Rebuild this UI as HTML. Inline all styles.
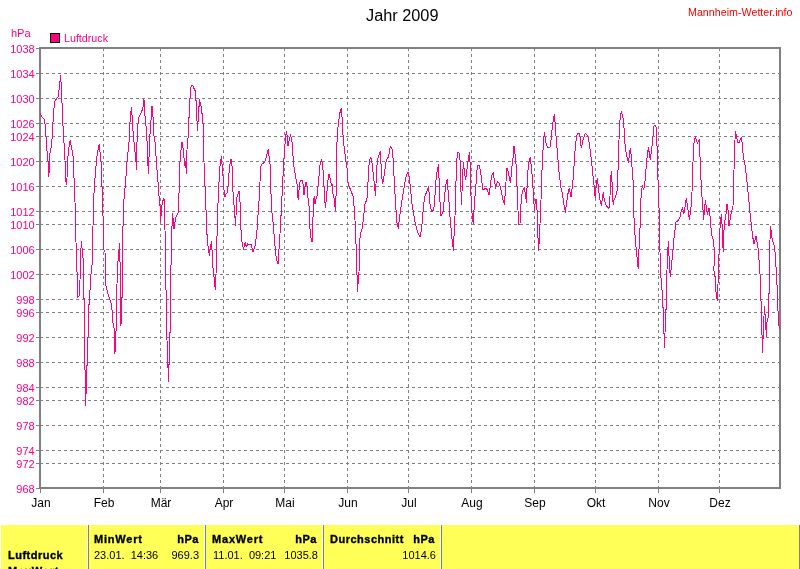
<!DOCTYPE html>
<html lang="de"><head><meta charset="utf-8"><title>Jahr 2009</title>
<style>
html,body{margin:0;padding:0;background:#fff;}
body{width:800px;height:569px;overflow:hidden;position:relative;font-family:"Liberation Sans",sans-serif;}
svg{position:absolute;left:0;top:0;}
svg text{font-family:"Liberation Sans",sans-serif;}
.tbl{position:absolute;left:1px;top:525px;width:798px;height:44px;background:#ffff58;border-right:1px solid #808080;overflow:hidden;font-size:11px;color:#000;}
.tbl span{position:absolute;white-space:nowrap;line-height:13px;}
.tbl b{font-weight:bold;letter-spacing:0.5px;-webkit-text-stroke:0.35px #000;}
.sep{position:absolute;top:0;width:1px;height:44px;background:#ffffff;border-right:1px solid #808080;}
</style></head><body>

<svg width="800" height="525" viewBox="0 0 800 525">
<g shape-rendering="crispEdges" stroke="#808080" stroke-width="1" stroke-dasharray="3 3" fill="none">
<line x1="40" y1="73.5" x2="779" y2="73.5"/>
<line x1="40" y1="98.5" x2="779" y2="98.5"/>
<line x1="40" y1="123.5" x2="779" y2="123.5"/>
<line x1="40" y1="136.5" x2="779" y2="136.5"/>
<line x1="40" y1="161.5" x2="779" y2="161.5"/>
<line x1="40" y1="186.5" x2="779" y2="186.5"/>
<line x1="40" y1="211.5" x2="779" y2="211.5"/>
<line x1="40" y1="224.5" x2="779" y2="224.5"/>
<line x1="40" y1="249.5" x2="779" y2="249.5"/>
<line x1="40" y1="274.5" x2="779" y2="274.5"/>
<line x1="40" y1="299.5" x2="779" y2="299.5"/>
<line x1="40" y1="312.5" x2="779" y2="312.5"/>
<line x1="40" y1="337.5" x2="779" y2="337.5"/>
<line x1="40" y1="362.5" x2="779" y2="362.5"/>
<line x1="40" y1="387.5" x2="779" y2="387.5"/>
<line x1="40" y1="400.5" x2="779" y2="400.5"/>
<line x1="40" y1="425.5" x2="779" y2="425.5"/>
<line x1="40" y1="450.5" x2="779" y2="450.5"/>
<line x1="40" y1="463.5" x2="779" y2="463.5"/>
<line x1="103.5" y1="48" x2="103.5" y2="487"/>
<line x1="160.5" y1="48" x2="160.5" y2="487"/>
<line x1="223.5" y1="48" x2="223.5" y2="487"/>
<line x1="284.5" y1="48" x2="284.5" y2="487"/>
<line x1="347.5" y1="48" x2="347.5" y2="487"/>
<line x1="408.5" y1="48" x2="408.5" y2="487"/>
<line x1="471.5" y1="48" x2="471.5" y2="487"/>
<line x1="534.5" y1="48" x2="534.5" y2="487"/>
<line x1="595.5" y1="48" x2="595.5" y2="487"/>
<line x1="658.5" y1="48" x2="658.5" y2="487"/>
<line x1="719.5" y1="48" x2="719.5" y2="487"/>
</g>
<g shape-rendering="crispEdges" stroke="#808080" stroke-width="1" fill="none">
<line x1="36" y1="48.5" x2="40" y2="48.5"/>
<line x1="36" y1="73.5" x2="40" y2="73.5"/>
<line x1="36" y1="98.5" x2="40" y2="98.5"/>
<line x1="36" y1="123.5" x2="40" y2="123.5"/>
<line x1="36" y1="136.5" x2="40" y2="136.5"/>
<line x1="36" y1="161.5" x2="40" y2="161.5"/>
<line x1="36" y1="186.5" x2="40" y2="186.5"/>
<line x1="36" y1="211.5" x2="40" y2="211.5"/>
<line x1="36" y1="224.5" x2="40" y2="224.5"/>
<line x1="36" y1="249.5" x2="40" y2="249.5"/>
<line x1="36" y1="274.5" x2="40" y2="274.5"/>
<line x1="36" y1="299.5" x2="40" y2="299.5"/>
<line x1="36" y1="312.5" x2="40" y2="312.5"/>
<line x1="36" y1="337.5" x2="40" y2="337.5"/>
<line x1="36" y1="362.5" x2="40" y2="362.5"/>
<line x1="36" y1="387.5" x2="40" y2="387.5"/>
<line x1="36" y1="400.5" x2="40" y2="400.5"/>
<line x1="36" y1="425.5" x2="40" y2="425.5"/>
<line x1="36" y1="450.5" x2="40" y2="450.5"/>
<line x1="36" y1="463.5" x2="40" y2="463.5"/>
<line x1="36" y1="488.5" x2="40" y2="488.5"/>
<line x1="40.5" y1="488" x2="40.5" y2="493"/>
<line x1="103.5" y1="488" x2="103.5" y2="493"/>
<line x1="160.5" y1="488" x2="160.5" y2="493"/>
<line x1="223.5" y1="488" x2="223.5" y2="493"/>
<line x1="284.5" y1="488" x2="284.5" y2="493"/>
<line x1="347.5" y1="488" x2="347.5" y2="493"/>
<line x1="408.5" y1="488" x2="408.5" y2="493"/>
<line x1="471.5" y1="488" x2="471.5" y2="493"/>
<line x1="534.5" y1="488" x2="534.5" y2="493"/>
<line x1="595.5" y1="488" x2="595.5" y2="493"/>
<line x1="658.5" y1="488" x2="658.5" y2="493"/>
<line x1="719.5" y1="488" x2="719.5" y2="493"/>
</g>
<rect shape-rendering="crispEdges" x="40" y="48" width="740" height="440" fill="none" stroke="#808080" stroke-width="2"/>
<polyline shape-rendering="crispEdges" fill="none" stroke="#ff0080" stroke-width="1" stroke-linejoin="round" points="40.4,113.0 41.6,116.4 44.4,119.6 45.4,127.0 46.2,140.0 47.4,156.0 48.0,161.0 48.6,174.0 48.6,177.0 49.2,171.0 50.0,153.0 51.4,146.0 52.4,134.0 53.4,114.0 54.6,102.0 56.0,99.4 58.0,97.0 59.0,90.0 59.6,81.0 60.0,82.0 60.6,75.0 61.2,85.0 61.8,86.0 62.0,103.0 62.6,104.0 63.0,126.0 63.6,128.0 64.4,156.0 65.0,160.0 65.4,174.0 66.0,182.0 66.6,184.8 67.0,178.0 67.4,162.0 68.6,150.0 69.4,144.0 70.2,140.0 71.0,145.0 72.0,150.0 73.2,157.0 73.6,174.0 74.4,182.0 75.0,202.0 75.4,222.0 76.0,242.0 76.4,256.0 77.0,272.0 77.4,284.0 77.4,297.6 79.4,295.6 80.0,280.0 80.6,256.0 81.4,241.0 82.0,248.0 82.6,250.0 83.0,258.0 83.6,276.0 84.0,288.0 83.6,298.0 84.4,299.0 84.4,369.6 85.4,370.4 85.4,406.0 86.2,391.0 86.4,366.0 87.6,365.0 88.0,337.0 88.6,336.0 88.6,305.0 89.6,304.0 90.0,290.0 90.0,284.0 91.4,270.0 92.4,262.0 93.0,226.0 93.6,202.0 94.4,184.0 95.4,175.0 96.0,166.0 97.0,156.0 98.0,150.0 99.2,144.0 100.0,152.0 101.0,162.0 102.0,175.8 101.2,184.0 102.4,188.0 103.0,216.0 103.6,234.0 104.0,250.0 105.0,252.0 105.6,284.0 107.0,290.0 108.0,294.0 109.6,299.0 111.4,304.0 112.0,310.0 113.0,323.0 114.0,328.0 114.4,338.0 115.0,353.6 115.4,332.0 116.4,330.0 116.6,290.0 117.0,284.0 117.6,262.0 118.4,260.0 119.4,243.0 120.0,262.0 120.6,264.0 121.0,289.8 120.6,305.0 121.0,326.0 121.4,298.0 122.4,297.0 122.6,290.0 122.6,242.0 123.6,204.0 125.2,186.0 126.0,176.0 127.0,162.0 128.0,152.0 129.0,142.0 130.0,122.0 130.6,116.0 131.4,107.0 132.0,115.0 132.6,126.0 134.0,142.0 135.0,152.0 135.6,162.0 136.0,158.0 136.4,169.4 137.0,142.0 137.6,130.0 138.4,118.0 140.0,115.0 141.6,112.0 143.0,107.0 143.6,99.0 144.2,101.0 144.4,110.0 145.4,120.0 146.4,130.0 147.4,148.0 148.0,166.0 148.6,174.0 149.2,150.0 150.0,134.0 151.0,120.0 152.0,106.0 152.6,116.0 153.4,118.0 154.0,136.0 155.0,142.0 156.0,156.0 157.0,170.0 158.0,182.0 159.0,196.0 160.0,206.0 160.6,222.0 161.4,210.0 162.4,202.0 164.0,198.0 164.4,216.0 165.0,230.0 165.6,256.0 166.0,289.8 166.4,295.0 166.4,339.0 167.0,340.0 167.4,366.0 168.2,368.0 168.2,381.6 168.6,365.0 169.4,364.0 169.6,333.0 170.4,332.0 170.6,292.0 171.4,240.0 172.0,226.0 172.4,213.0 173.2,220.0 174.0,229.0 175.0,222.0 176.0,217.0 178.0,213.0 178.6,200.0 179.4,186.0 179.6,176.0 180.0,162.0 181.0,150.0 182.0,142.0 183.0,148.0 184.0,158.0 185.0,166.0 185.6,162.0 186.4,174.0 187.0,150.0 187.2,140.0 188.1,137.5 188.5,118.1 189.4,117.5 189.6,98.1 190.4,97.5 190.4,88.1 191.2,86.2 192.5,85.2 193.5,87.5 194.4,89.4 195.4,91.2 195.6,100.0 196.5,101.2 196.6,120.0 197.2,121.2 197.5,130.6 197.9,122.5 198.4,121.2 198.5,107.5 199.1,106.2 199.4,99.0 199.8,101.9 200.2,102.5 200.4,105.6 201.2,106.2 201.6,113.1 202.5,113.8 202.8,123.1 203.5,123.8 203.6,142.0 204.0,162.0 204.4,176.0 205.0,186.0 206.0,210.0 206.6,228.0 207.6,244.0 208.4,248.0 209.4,256.0 210.4,246.0 211.4,242.0 212.0,250.0 212.6,262.0 213.6,276.0 214.4,278.0 215.2,289.8 216.0,274.0 216.6,250.0 217.4,222.0 218.4,192.0 219.4,176.0 220.0,166.0 220.8,160.0 221.6,157.0 222.0,164.0 222.6,166.0 223.0,175.8 223.4,184.0 224.0,190.0 225.0,197.0 226.0,194.0 227.0,193.0 228.0,186.0 228.6,176.0 229.6,168.0 230.4,161.0 231.2,159.0 232.0,166.0 232.6,175.8 233.0,192.0 233.6,204.0 234.4,206.0 235.4,226.0 236.0,216.0 236.6,198.0 237.6,195.0 239.2,191.0 240.0,202.0 240.6,222.0 241.6,240.0 242.6,244.0 243.4,250.0 244.4,245.0 245.2,242.4 246.4,247.0 247.6,244.0 249.0,245.0 250.0,244.0 251.4,245.0 252.4,250.0 253.2,252.0 254.4,248.0 255.4,244.0 256.4,236.0 257.4,226.0 258.4,208.0 259.4,196.0 260.0,182.0 260.6,167.0 262.0,164.0 263.6,163.0 265.0,161.0 266.4,157.0 267.6,152.0 268.4,149.0 269.0,156.0 270.0,164.0 270.6,175.8 270.6,186.0 271.4,202.0 272.4,220.0 273.4,224.0 274.4,240.0 275.4,250.0 276.2,258.0 277.0,261.0 278.0,264.0 278.6,256.0 279.4,242.0 280.0,234.0 280.6,218.0 281.6,212.0 282.0,196.0 283.0,176.0 283.4,168.0 284.0,158.0 284.8,146.0 285.6,138.0 286.4,131.0 287.2,136.0 288.0,146.0 289.0,141.0 290.4,135.0 291.4,139.0 292.0,142.0 292.6,152.0 293.6,162.0 294.4,171.0 295.6,175.8 296.0,179.0 297.0,184.0 297.6,192.0 298.2,200.0 299.0,190.0 300.0,182.0 301.0,180.0 302.0,180.4 303.0,184.0 304.0,195.0 304.8,188.0 306.0,181.6 307.0,186.0 308.0,198.0 309.0,206.0 309.6,224.0 310.6,236.0 312.0,242.0 312.6,230.0 313.4,206.0 314.2,196.0 315.0,204.0 316.0,199.0 317.0,196.0 318.0,186.0 319.0,176.0 319.4,170.0 320.4,162.0 321.4,160.0 322.4,164.0 323.0,170.0 323.6,175.8 324.0,186.0 324.8,200.0 325.4,208.0 326.4,198.0 327.4,186.0 328.4,176.0 329.0,174.0 329.6,176.0 330.6,180.0 331.4,186.0 332.0,184.0 333.0,194.0 334.0,198.0 335.4,211.0 336.0,196.0 336.6,184.0 337.0,176.0 336.4,154.0 337.0,142.0 337.6,130.0 338.6,122.0 339.6,114.0 340.4,111.0 341.4,108.0 341.8,116.0 342.4,118.0 342.8,134.0 343.6,137.0 344.0,146.0 345.0,154.0 346.0,162.0 347.0,168.0 347.6,175.8 348.0,182.0 349.0,186.0 351.0,191.0 353.0,196.0 354.0,206.0 355.0,220.0 355.4,242.0 356.4,245.0 356.8,274.0 357.4,276.0 357.4,291.6 359.0,272.0 359.4,258.0 360.0,238.0 361.0,232.0 362.4,228.0 363.4,218.0 364.4,210.0 365.4,201.0 366.6,202.0 367.6,192.0 368.4,172.0 369.4,160.0 371.0,157.6 371.6,160.0 372.4,166.0 373.4,176.0 374.4,184.0 375.4,196.0 376.0,184.0 376.6,170.0 377.4,160.0 378.4,156.0 379.4,154.0 380.2,151.0 380.6,158.0 381.4,170.0 382.4,184.0 383.4,180.0 384.4,174.0 385.4,166.0 386.4,160.0 387.4,158.0 388.4,157.0 389.4,152.0 390.4,146.0 391.4,148.0 392.4,150.0 393.0,158.0 393.6,162.0 394.0,176.0 395.0,194.0 396.0,210.0 397.0,223.0 398.4,228.4 399.2,220.0 400.0,214.0 401.4,204.0 402.6,196.0 404.0,188.0 405.4,180.0 406.4,175.0 408.0,172.0 409.0,176.0 410.0,184.0 411.0,194.0 412.0,204.0 413.0,210.0 414.0,216.0 415.0,222.0 416.4,228.0 418.0,233.0 420.0,237.0 421.0,232.0 422.0,224.0 423.0,212.0 424.0,202.0 425.0,196.0 427.0,191.0 428.4,187.0 429.2,194.0 430.0,204.0 431.0,209.0 432.0,211.6 433.6,210.0 434.6,202.0 435.4,188.0 436.4,175.0 437.4,170.0 438.4,164.4 439.0,178.0 439.6,196.0 440.4,208.0 440.6,216.0 442.0,214.0 443.0,212.0 444.0,202.0 445.0,192.0 446.0,184.0 447.2,179.0 448.0,190.0 449.0,202.0 449.6,214.0 450.6,222.0 451.6,236.0 452.4,241.0 453.4,250.4 454.0,236.0 455.0,216.0 455.6,196.0 456.4,166.0 457.4,153.0 458.4,152.6 459.4,153.4 460.0,160.0 460.6,180.0 461.4,204.4 462.0,192.0 462.6,176.0 463.4,162.4 464.2,170.0 465.6,180.0 466.4,174.0 467.4,166.0 468.4,158.0 469.6,152.4 470.2,166.0 470.6,186.0 471.4,206.0 472.4,218.0 473.4,224.0 474.0,210.0 475.0,196.0 476.0,184.0 477.0,170.0 478.0,165.6 479.0,165.0 480.0,169.0 481.0,175.0 482.0,183.0 483.0,190.0 484.4,189.0 486.0,188.0 487.4,190.0 489.0,195.0 490.0,188.0 491.0,180.0 492.0,175.0 493.4,172.0 494.0,178.0 495.0,184.0 495.6,189.0 496.4,184.0 497.6,182.0 499.0,183.0 500.0,186.0 501.0,190.0 502.0,195.0 503.0,200.0 504.4,204.4 505.0,196.0 506.0,182.0 506.6,168.0 507.6,169.0 508.6,174.0 509.4,178.0 510.4,182.4 511.0,177.0 512.0,166.0 513.0,158.0 514.0,146.4 514.6,150.0 515.4,158.0 516.0,164.0 516.6,176.0 517.4,196.0 518.0,210.0 518.4,224.0 519.8,224.4 520.0,224.4 520.2,212.0 520.6,212.0 521.0,204.0 522.0,194.0 523.0,190.0 524.4,188.0 525.4,194.0 526.4,202.4 527.0,188.0 527.6,176.0 528.4,164.0 529.4,160.0 530.4,157.6 531.0,164.0 531.6,168.0 532.4,180.0 533.0,188.0 533.6,196.0 534.4,211.0 535.0,204.0 536.0,199.4 536.6,204.0 537.0,210.0 537.6,226.0 538.0,238.0 538.6,250.6 539.4,238.0 540.0,224.0 540.6,210.0 541.0,200.0 541.6,180.0 542.4,160.0 543.0,150.0 543.6,140.0 544.4,132.0 545.4,140.0 546.4,145.0 548.0,147.4 550.0,147.0 551.0,140.0 552.0,130.0 553.0,122.0 554.4,114.4 555.0,122.0 555.6,128.0 556.0,136.0 557.0,148.0 558.0,160.0 559.0,172.0 560.0,180.0 561.0,188.0 562.4,194.0 563.6,202.0 564.4,207.0 565.4,212.4 566.4,204.0 567.6,196.0 568.6,190.0 569.4,188.0 570.0,192.0 571.0,197.0 571.6,192.0 572.4,186.0 573.4,176.0 574.4,160.0 575.4,146.0 576.4,138.0 577.4,133.6 579.0,133.4 580.0,137.0 580.6,143.0 581.4,148.0 582.4,143.0 583.6,138.0 584.6,135.0 585.6,133.4 587.0,135.0 588.4,138.0 589.4,144.0 590.4,152.0 591.4,160.0 592.4,170.0 593.4,180.0 594.4,188.0 595.2,198.0 596.0,188.0 597.0,180.0 597.6,179.0 598.4,188.0 599.4,196.0 600.4,202.0 601.4,206.0 602.4,198.0 603.2,192.4 604.0,198.0 605.0,202.0 606.0,205.0 607.4,207.0 609.0,208.4 610.0,196.0 610.6,180.0 611.4,171.0 612.0,182.0 612.6,196.0 613.2,205.0 614.0,200.0 615.0,198.0 616.0,195.0 617.0,191.0 617.6,180.0 618.4,160.0 619.0,140.0 619.6,124.0 620.4,116.0 621.4,111.4 622.4,116.0 623.4,120.0 624.0,128.0 624.6,140.0 625.4,148.0 626.4,154.0 627.4,159.0 628.6,162.0 629.4,154.0 630.4,148.0 631.0,154.0 631.6,162.0 632.4,172.0 633.0,180.0 633.6,196.0 633.6,208.0 634.4,228.0 635.4,240.0 636.4,252.0 637.4,260.0 638.2,268.4 638.6,258.0 639.4,240.0 640.0,228.0 641.0,210.0 640.4,204.0 641.4,194.0 642.4,185.0 643.4,190.0 644.4,186.0 645.4,178.0 646.4,164.0 647.4,154.0 648.4,147.4 649.4,154.0 650.4,160.0 651.2,152.0 652.0,146.0 653.0,136.0 654.0,126.0 655.0,125.0 656.0,127.0 656.6,140.0 657.4,152.0 657.6,172.0 658.4,188.0 659.0,208.0 659.0,224.0 659.4,250.0 660.0,252.0 660.4,274.0 661.4,280.0 662.0,290.0 662.6,307.0 663.4,308.0 663.6,333.0 664.2,334.0 664.2,347.6 665.0,333.0 665.4,310.0 666.4,309.0 666.6,290.0 666.4,286.0 667.0,270.0 667.6,254.0 668.4,241.0 669.0,256.0 669.6,268.0 670.4,277.0 671.0,270.0 672.0,260.0 673.0,250.0 674.0,238.0 675.0,230.0 676.0,222.0 677.4,221.0 678.6,220.0 679.8,218.0 680.6,213.0 681.6,210.0 682.4,207.4 683.4,212.0 684.0,213.6 685.0,207.0 685.6,202.0 686.4,198.0 687.4,206.0 688.4,212.0 689.4,219.4 690.4,212.0 691.4,204.0 692.0,192.0 692.4,176.0 693.0,162.0 693.6,146.0 694.4,140.0 695.4,136.4 696.4,140.0 697.4,144.0 698.4,141.0 699.2,139.6 699.6,150.0 700.4,164.0 701.0,180.0 701.6,194.0 702.4,200.0 703.0,210.0 703.6,220.0 704.4,210.0 705.4,200.0 706.4,208.0 707.4,214.4 708.4,210.0 709.2,208.0 710.0,216.0 711.0,228.0 712.0,236.0 713.4,240.0 714.4,252.0 713.9,270.0 714.5,276.0 715.3,277.0 715.6,291.0 716.3,292.5 716.7,297.0 717.3,300.6 717.8,284.0 718.5,283.5 718.8,270.0 719.0,254.0 719.6,234.0 720.4,222.0 721.4,214.4 722.0,224.0 722.6,240.0 723.2,251.6 724.0,230.0 725.0,220.0 726.0,214.0 727.0,204.0 728.0,210.0 729.0,226.0 730.0,220.0 731.0,214.0 732.0,210.0 733.0,206.0 733.6,190.0 734.0,170.0 734.4,150.0 735.0,140.0 735.4,131.0 736.4,136.0 737.6,142.0 739.0,143.0 740.0,140.0 741.4,137.0 742.0,142.0 742.6,150.0 743.6,158.0 744.6,162.0 745.4,168.0 746.4,176.0 747.4,186.0 748.4,196.0 749.4,206.0 749.6,210.0 750.4,216.0 750.6,218.0 751.6,228.0 752.6,236.0 754.0,244.4 755.0,240.0 756.0,236.0 757.0,242.0 758.0,248.0 759.0,260.0 760.0,274.0 760.6,298.0 761.4,304.0 761.4,310.0 761.6,334.0 762.4,336.0 762.4,352.4 763.0,340.0 763.4,324.0 764.0,316.0 764.4,306.0 765.0,314.0 765.6,318.0 766.0,330.0 766.4,337.0 767.0,322.0 768.0,320.0 768.2,294.0 769.4,293.0 769.4,250.0 770.0,240.0 770.6,226.0 771.4,234.0 772.4,240.0 773.4,243.0 774.4,246.0 775.4,256.0 776.4,274.0 777.4,292.0 777.4,310.0 778.4,312.0 778.6,322.0 779.4,329.0"/>
<g font-size="11" fill="#ff0080" text-anchor="end">
<text x="34.7" y="52.5">1038</text>
<text x="34.7" y="77.5">1034</text>
<text x="34.7" y="102.5">1030</text>
<text x="34.7" y="127.5">1026</text>
<text x="34.7" y="140.5">1024</text>
<text x="34.7" y="165.5">1020</text>
<text x="34.7" y="190.5">1016</text>
<text x="34.7" y="215.5">1012</text>
<text x="34.7" y="228.5">1010</text>
<text x="34.7" y="253.5">1006</text>
<text x="34.7" y="278.5">1002</text>
<text x="34.7" y="303.5">998</text>
<text x="34.7" y="316.5">996</text>
<text x="34.7" y="341.5">992</text>
<text x="34.7" y="366.5">988</text>
<text x="34.7" y="391.5">984</text>
<text x="34.7" y="404.5">982</text>
<text x="34.7" y="429.5">978</text>
<text x="34.7" y="454.5">974</text>
<text x="34.7" y="467.5">972</text>
<text x="34.7" y="492.5">968</text>
</g>
<text x="11" y="36.5" font-size="11" fill="#ff0080">hPa</text>
<rect shape-rendering="crispEdges" x="50.5" y="33.5" width="9" height="9" fill="#ff0080" stroke="#000" stroke-width="1"/>
<text x="64" y="41.5" font-size="11" fill="#ff0080" textLength="44" lengthAdjust="spacingAndGlyphs">Luftdruck</text>
<g font-size="12" fill="#000" text-anchor="middle">
<text x="41.0" y="507">Jan</text>
<text x="104.0" y="507">Feb</text>
<text x="161.0" y="507">Mär</text>
<text x="224.0" y="507">Apr</text>
<text x="285.0" y="507">Mai</text>
<text x="348.0" y="507">Jun</text>
<text x="409.0" y="507">Jul</text>
<text x="472.0" y="507">Aug</text>
<text x="535.0" y="507">Sep</text>
<text x="596.0" y="507">Okt</text>
<text x="659.0" y="507">Nov</text>
<text x="720.0" y="507">Dez</text>
</g>
<text x="366" y="20.5" font-size="16" fill="#000" textLength="72.5" lengthAdjust="spacingAndGlyphs">Jahr 2009</text>
<text x="688" y="15.5" font-size="11" fill="#ff0000" textLength="104.5" lengthAdjust="spacingAndGlyphs">Mannheim-Wetter.info</text>
</svg>
<div class="tbl">
<div class="sep" style="left:86px"></div>
<div class="sep" style="left:203px"></div>
<div class="sep" style="left:321px"></div>
<div class="sep" style="left:439px"></div>
<span style="top:8px;left:93px;"><b style="letter-spacing:0.8px">MinWert</b></span>
<span style="top:8px;right:600px;"><b style="letter-spacing:0.5px">hPa</b></span>
<span style="top:8px;left:211px;"><b style="letter-spacing:0.8px">MaxWert</b></span>
<span style="top:8px;right:482px;"><b style="letter-spacing:0.5px">hPa</b></span>
<span style="top:8px;left:329px;"><b style="letter-spacing:0.5px">Durchschnitt</b></span>
<span style="top:8px;right:364px;"><b style="letter-spacing:0.5px">hPa</b></span>
<span style="top:24px;left:7px;"><b style="letter-spacing:0.5px">Luftdruck</b></span>
<span style="top:24px;left:93px;">23.01.&nbsp; 14:36</span>
<span style="top:24px;right:600px;">969.3</span>
<span style="top:24px;left:212px;">11.01.&nbsp; 09:21</span>
<span style="top:24px;right:481px;">1035.8</span>
<span style="top:24px;right:363px;">1014.6</span>
<span style="top:40px;left:7px;"><b style="letter-spacing:0.8px">MaxWert</b></span>
</div>
</body></html>
